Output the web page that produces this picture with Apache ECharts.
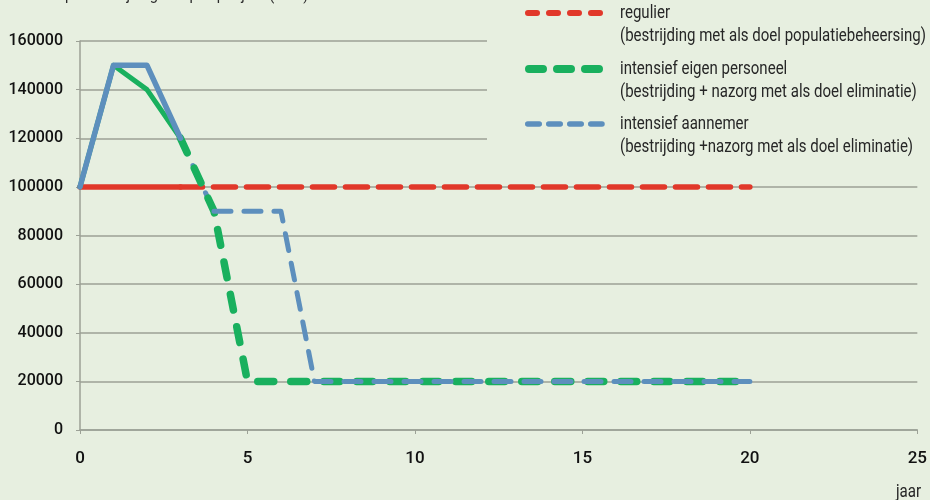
<!DOCTYPE html>
<html>
<head>
<meta charset="utf-8">
<script src="https://cdn.jsdelivr.net/npm/echarts@6/dist/echarts.min.js"></script>
<style>
  html, body { margin: 0; padding: 0; background: #e7efe0; }
  #chart { width: 930px; height: 500px; }
</style>
</head>
<body>
<div id="chart"></div>
<script>
// Years on the horizontal axis
const years = [0, 1, 2, 3, 4, 5, 6, 7, 8, 9, 10, 11, 12, 13, 14, 15, 16, 17, 18, 19, 20];

// Annual cost (euro) per strategy
const regulier = [100000, 100000, 100000, 100000, 100000, 100000, 100000, 100000, 100000, 100000, 100000,
                  100000, 100000, 100000, 100000, 100000, 100000, 100000, 100000, 100000, 100000];
const eigenPersoneel = [100000, 150000, 140000, 120000, 90000, 20000, 20000, 20000, 20000, 20000, 20000,
                        20000, 20000, 20000, 20000, 20000, 20000, 20000, 20000, 20000, 20000];
const aannemer = [100000, 150000, 150000, 120000, 90000, 90000, 90000, 20000, 20000, 20000, 20000,
                  20000, 20000, 20000, 20000, 20000, 20000, 20000, 20000, 20000, 20000];

// Tick values
const xTicks = [0, 5, 10, 15, 20, 25];
const yTicks = [0, 20000, 40000, 60000, 80000, 100000, 120000, 140000, 160000];

const legendLabels = [
  ['regulier', '(bestrijding met als doel populatiebeheersing)'],
  ['intensief eigen personeel', '(bestrijding + nazorg met als doel eliminatie)'],
  ['intensief aannemer', '(bestrijding +nazorg met als doel eliminatie)']
];

const FONT = 'Roboto, "Liberation Sans", sans-serif';
const RED = '#e1382a', GREEN = '#19b05e', BLUE = '#5d8fbd';
const GRID = '#9ca196';
const SPLIT = 3; // first three years drawn solid, the rest dashed
const LAST = years.length - 1;

function pairs(vals, from, to) {
  return years.map((x, i) => (i >= from && i <= to) ? [x, vals[i]] : [x, null]);
}

// One stretch of a series, drawn from index `from` to index `to`
function part(vals, from, to, color, width, type, z) {
  return {
    type: 'line', data: pairs(vals, from, to), symbol: 'none', z: z,
    lineStyle: { color: color, width: width, type: type, cap: 'round', join: 'round' },
    silent: true
  };
}

const chart = echarts.init(document.getElementById('chart'));

// Legend: dashed sample + two-line description per strategy
const legendRows = [
  { y: 13, color: RED, width: 6, dash: [9, 12] },
  { y: 69, color: GREEN, width: 8, dash: [14, 14] },
  { y: 124, color: BLUE, width: 5.5, dash: [11.5, 9.5] }
];
const legendGraphics = [{
  type: 'rect', x: 487, y: 0, z: 10,
  shape: { width: 443, height: 165 },
  style: { fill: '#e7efe0' }
}];
legendRows.forEach((r, i) => {
  legendGraphics.push({
    type: 'line', z: 11,
    shape: { x1: 525 + r.width / 2, y1: r.y, x2: 602, y2: r.y },
    style: { stroke: r.color, lineWidth: r.width, lineDash: r.dash, lineCap: 'round' }
  });
  [0, 1].forEach(k => {
    legendGraphics.push({
      type: 'text', z: 11, x: 620, y: r.y + k * 23, scaleX: 0.835,
      style: { x: 0, y: 0, text: legendLabels[i][k], font: '18px ' + FONT, fill: '#262626',
        verticalAlign: 'middle' }
    });
  });
});

chart.setOption({
  backgroundColor: '#e7efe0',
  animation: false,
  grid: { left: 80, right: 6, top: 41, bottom: 70, containLabel: false },
  xAxis: {
    type: 'value', min: 0, max: 25, interval: 5,
    axisLine: { show: true, lineStyle: { color: GRID, width: 1.5 } },
    axisTick: { show: true, length: 4, lineStyle: { color: GRID } },
    axisLabel: { color: '#111', fontSize: 17, fontFamily: FONT, fontWeight: 500, margin: 20,
      formatter: v => xTicks.includes(v) ? String(v) : '' },
    splitLine: { show: false }
  },
  yAxis: {
    type: 'value', min: 0, max: 160000, interval: 20000,
    axisLine: { show: true, lineStyle: { color: GRID, width: 1.5 } },
    axisTick: { show: true, length: 4, lineStyle: { color: GRID } },
    axisLabel: { color: '#111', fontSize: 16, fontFamily: FONT, fontWeight: 500, margin: 17,
      formatter: v => yTicks.includes(v) ? String(v) : '' },
    splitLine: { show: true, lineStyle: { color: GRID, width: 1.5 } }
  },
  series: [
    part(regulier, 0, SPLIT, RED, 5.5, 'solid', 2),
    part(regulier, SPLIT, LAST, RED, 5.5, [22, 11], 2),
    part(aannemer, SPLIT, SPLIT + 1, BLUE, 5, [17, 13], 2.5),
    part(eigenPersoneel, 0, SPLIT, GREEN, 5, 'solid', 3),
    part(eigenPersoneel, SPLIT, LAST, GREEN, 7.5, [16, 17], 3),
    part(aannemer, 0, SPLIT, BLUE, 5.5, 'solid', 4),
    part(aannemer, SPLIT + 1, LAST, BLUE, 5, [17, 13], 4)
  ],
  graphic: legendGraphics.concat([
    {
      type: 'text', x: 16, y: 4, z: 12, scaleX: 0.86,
      style: { x: 0, y: 0, text: 'Kosten per bestrijdingsaanpak per jaar (euro)', font: '17px ' + FONT,
        fill: '#2b2b2b', verticalAlign: 'bottom' }
    },
    {
      type: 'text', x: 896, y: 492, z: 12, scaleX: 0.84,
      style: { x: 0, y: 0, text: 'jaar', font: '18px ' + FONT, fill: '#262626', verticalAlign: 'middle' }
    }
  ])
});
</script>
</body>
</html>
